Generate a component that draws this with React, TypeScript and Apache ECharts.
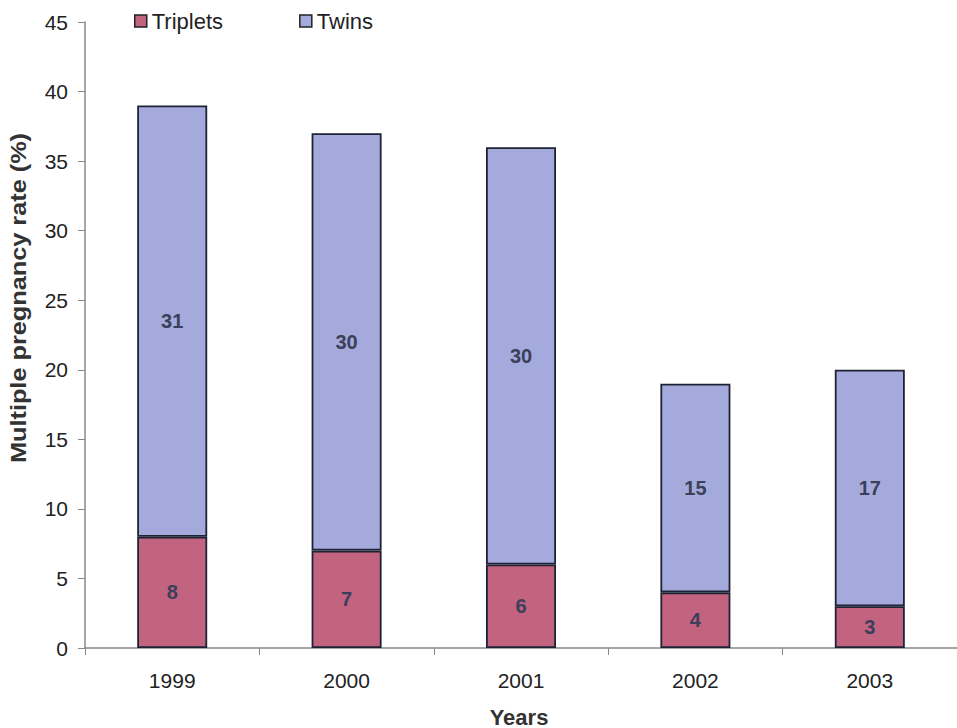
import React, { useEffect, useRef } from "react";
import * as echarts from "echarts";

const years = ["1999", "2000", "2001", "2002", "2003"];
const triplets = [8, 7, 6, 4, 3];
const twins = [31, 30, 30, 15, 17];
const yTicks = { min: 0, max: 45, interval: 5 };

const FONT = "'Liberation Sans', Arial, sans-serif";

export default function App() {
  const ref = useRef<HTMLDivElement>(null);
  useEffect(() => {
    document.body.style.margin = "0";
    const chart = echarts.init(ref.current!, null, { renderer: "svg" });
    const labelStyle = {
      show: true,
      position: "inside" as const,
      color: "#3b3f5a",
      fontSize: 20,
      fontWeight: "bold" as const,
      fontFamily: FONT,
    };
    chart.setOption({
      animation: false,
      backgroundColor: "#ffffff",
      grid: { left: 85, top: 22, width: 880, height: 626, containLabel: false },
      legend: {
        left: 129,
        top: 5,
        icon: "rect",
        itemWidth: 12,
        itemHeight: 12,
        itemGap: 76,
        textStyle: { fontSize: 22, color: "#222", fontFamily: FONT },
        data: [
          { name: "Triplets", itemStyle: { borderColor: "#222", borderWidth: 1.5 } },
          { name: "Twins", itemStyle: { borderColor: "#222", borderWidth: 1.5 } },
        ],
      },
      xAxis: {
        type: "category",
        data: years,
        axisLine: { lineStyle: { color: "#888", width: 1.5 } },
        axisTick: { show: true, length: 7, lineStyle: { color: "#888" } },
        axisLabel: { fontSize: 21, color: "#222", margin: 22, fontFamily: FONT },
      },
      yAxis: {
        type: "value",
        min: yTicks.min,
        max: yTicks.max,
        interval: yTicks.interval,
        splitLine: { show: false },
        axisLine: { show: true, lineStyle: { color: "#888", width: 1.5 } },
        axisTick: { show: true, length: 7, lineStyle: { color: "#888" } },
        axisLabel: { fontSize: 21, color: "#222", margin: 17, fontFamily: FONT },
      },
      graphic: [
        {
          type: "text",
          x: 19,
          y: 298,
          rotation: Math.PI / 2,
          scaleX: 1.15,
          style: {
            text: "Multiple pregnancy rate (%)",
            fontSize: 22,
            fontWeight: "bold",
            fill: "#333",
            fontFamily: FONT,
            align: "center",
            verticalAlign: "middle",
          },
        },
        {
          type: "text",
          x: 519,
          y: 717,
          style: {
            text: "Years",
            fontSize: 22,
            fontWeight: "bold",
            fill: "#333",
            fontFamily: FONT,
            align: "center",
            verticalAlign: "middle",
          },
        },
      ],
      series: [
        {
          name: "Triplets",
          type: "bar",
          stack: "total",
          barWidth: 70,
          data: triplets,
          itemStyle: { color: "#c2637f", borderColor: "#1e2235", borderWidth: 1.8 },
          label: labelStyle,
        },
        {
          name: "Twins",
          type: "bar",
          stack: "total",
          barWidth: 70,
          data: twins,
          itemStyle: { color: "#a4abdc", borderColor: "#1e2235", borderWidth: 1.8 },
          label: labelStyle,
        },
      ],
    });
    return () => chart.dispose();
  }, []);
  return <div ref={ref} style={{ width: 957, height: 728 }} />;
}
